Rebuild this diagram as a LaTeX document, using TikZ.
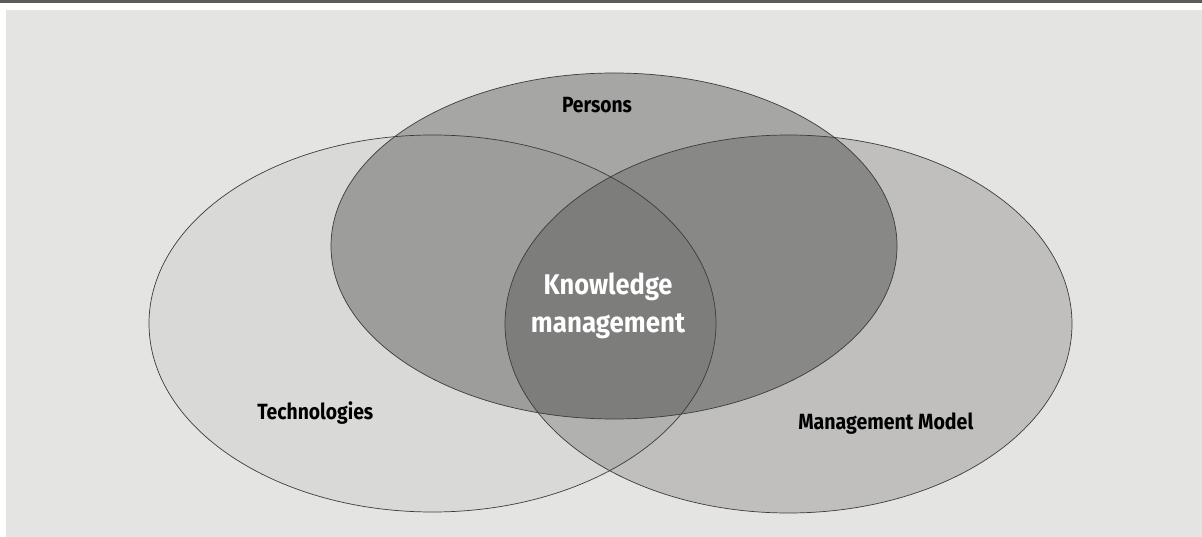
\documentclass[tikz,border=0pt]{standalone}
\usepackage{fontspec}
\setmainfont{Fira Sans}
\usepackage{graphicx}
\definecolor{bgc}{HTML}{E4E4E2}
\definecolor{barc}{HTML}{5E5B58}
\definecolor{lonly}{HTML}{D9D9D8}
\definecolor{ronly}{HTML}{C0BFBE}
\definecolor{tonly}{HTML}{A6A6A5}
\definecolor{tl}{HTML}{9D9D9C}
\definecolor{tr}{HTML}{888887}
\definecolor{lr}{HTML}{B1B1B0}
\definecolor{tlr}{HTML}{7D7D7C}
\definecolor{edge}{HTML}{3C3C3C}
\tikzset{
  lbl/.style={inner sep=0pt, anchor=base, text=black, font=\fontsize{22}{26}\selectfont\bfseries},
  kmlbl/.style={inner sep=0pt, anchor=base, text=white, font=\fontsize{28.5}{34}\selectfont\bfseries},
  outline/.style={draw=edge, line width=0.7pt}
}
\begin{document}
\begin{tikzpicture}[x=1pt,y=-1pt]
\useasboundingbox (0,0) rectangle (1202,537);
\fill[white] (0,0) rectangle (1202,537);
\fill[barc] (0,0) rectangle (1202,3.5);
\fill[bgc] (6,10) rectangle (1202,537);
% base fills
\fill[lonly] (432.5,323.5) ellipse [x radius=283.5pt, y radius=188.5pt];
\fill[ronly] (788.5,324) ellipse [x radius=283.5pt, y radius=189pt];
\fill[tonly] (614,246) ellipse [x radius=283pt, y radius=173pt];
% left and right
\begin{scope}
  \clip (432.5,323.5) ellipse [x radius=283.5pt, y radius=188.5pt];
  \fill[lr] (788.5,324) ellipse [x radius=283.5pt, y radius=189pt];
\end{scope}
% top and left
\begin{scope}
  \clip (614,246) ellipse [x radius=283pt, y radius=173pt];
  \fill[tl] (432.5,323.5) ellipse [x radius=283.5pt, y radius=188.5pt];
\end{scope}
% top and right
\begin{scope}
  \clip (614,246) ellipse [x radius=283pt, y radius=173pt];
  \fill[tr] (788.5,324) ellipse [x radius=283.5pt, y radius=189pt];
\end{scope}
% all three
\begin{scope}
  \clip (614,246) ellipse [x radius=283pt, y radius=173pt];
  \clip (432.5,323.5) ellipse [x radius=283.5pt, y radius=188.5pt];
  \fill[tlr] (788.5,324) ellipse [x radius=283.5pt, y radius=189pt];
\end{scope}
% outlines
\draw[outline] (432.5,323.5) ellipse [x radius=283.5pt, y radius=188.5pt];
\draw[outline] (788.5,324) ellipse [x radius=283.5pt, y radius=189pt];
\draw[outline] (614,246) ellipse [x radius=283pt, y radius=173pt];
% labels
\node[lbl] (persons) at (597,113) {\resizebox{70pt}{\height}{Persons}};
\node[lbl] (tech) at (315.3,419) {\resizebox{116pt}{\height}{Technologies}};
\node[lbl] (mgmt) at (885.8,429) {\resizebox{175pt}{\height}{Management Model}};
\node[kmlbl] (km1) at (608,295) {\resizebox{129pt}{\height}{Knowledge}};
\node[kmlbl] (km2) at (608,333) {\resizebox{154pt}{\height}{management}};
\end{tikzpicture}
\end{document}
